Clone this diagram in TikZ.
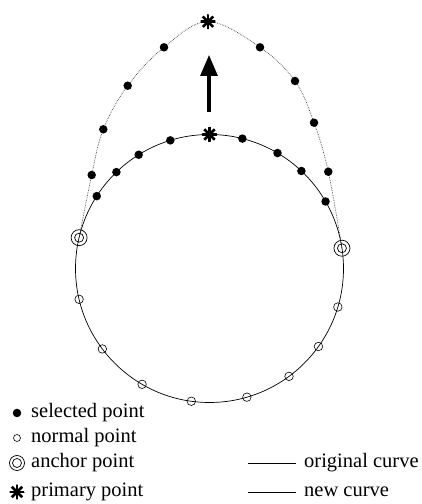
\documentclass[tikz,border=0pt]{standalone}
\usepackage{fontspec}
\setmainfont{Liberation Serif}
\usetikzlibrary{arrows.meta,backgrounds}
\tikzset{
  selpt/.style={
    circle,
    fill=black,
    inner sep=0pt,
    minimum size=8.5pt
  },
  normpt/.style={
    circle,
    draw=black,
    line width=0.6pt,
    inner sep=0pt,
    minimum size=8.5pt
  },
  anchorpt/.style={
    circle,
    draw=black,
    line width=0.7pt,
    inner sep=0pt,
    minimum size=16pt,
    path picture={\draw[line width=0.7pt] (path picture bounding box.center) circle (4.5pt);}
  },
  primpt/.style={
    circle,
    inner sep=0pt,
    minimum size=15pt,
    path picture={\foreach \k in {0,45,90,135}{\draw[line width=2.6pt] (path picture bounding box.center) ++(\k:8pt) -- ++(\k+180:16pt);}}
  },
  origcurve/.style={
    draw=black,
    line width=0.7pt
  },
  newcurve/.style={
    draw=black!75,
    line width=0.7pt,
    densely dotted
  },
  liftarrow/.style={
    draw=black,
    line width=3.2pt,
    -{Triangle[length=21pt,width=17pt]}
  },
  legtext/.style={
    anchor=west,
    inner sep=0pt,
    font=\fontsize{20.5}{25}\selectfont
  }
}

\begin{document}
\begin{tikzpicture}[x=1pt,y=1pt]
  \useasboundingbox (0,0) rectangle (421,504);
  \coordinate (ctr) at (209.5,235.5);
  % points on the original curve
  \foreach \a [count=\i] in {147.3,134,121.9,107,75.8,59.5,46.7,30}
    {\node[selpt] (os\i) at ([shift={(\a:134)}]ctr) {};}
  \foreach \a [count=\i] in {193.3,216.9,239.8,262.2,286.2,306.4,324.4,343.3}
    {\node[normpt] (np\i) at ([shift={(\a:134)}]ctr) {};}
  \node[anchorpt] (ancL) at ([shift={(166.7:134)}]ctr) {};
  \node[anchorpt] (ancR) at ([shift={(8.7:134)}]ctr) {};
  \node[primpt] (primOld) at ([shift={(90:134)}]ctr) {};
  % points on the new curve
  \node[primpt] (primNew) at (208,482.3) {};
  \foreach \x/\y [count=\i] in {91.7/329,103.3/374.7,127.7/418.3,164/456.7,260/456.7,295/423,314/381.3,328.3/332.3}
    {\node[selpt] (ns\i) at (\x,\y) {};}
  % lift
  \coordinate (liftFrom) at (209,392.3);
  \coordinate (liftTo) at (209,449);
  \draw[liftarrow] (liftFrom) -- (liftTo);
  \begin{scope}[on background layer]
    \draw[origcurve] (ctr) circle (134);
    \draw[newcurve] plot[smooth,tension=0.6] coordinates {(ancL.center) (ns1.center) (ns2.center) (ns3.center) (ns4.center) (primNew.center) (ns5.center) (ns6.center) (ns7.center) (ns8.center) (ancR.center)};
  \end{scope}
  % key
  \node[selpt] (keySel) at (17,91) {};
  \node[legtext] (txtSel) at (31,91) {selected point};
  \node[normpt,minimum size=7pt] (keyNorm) at (17,66) {};
  \node[legtext] (txtNorm) at (31,66) {normal point};
  \node[anchorpt,minimum size=15pt] (keyAnc) at (17,41) {};
  \node[legtext] (txtAnc) at (31,41) {anchor point};
  \node[primpt] (keyPrim) at (17,12) {};
  \node[legtext] (txtPrim) at (31,12) {primary point};
  \coordinate (keyOrig) at (248,41);
  \node[legtext] (txtOrig) at (304,41) {original curve};
  \draw[origcurve] (keyOrig) -- ([xshift=-8pt]txtOrig.west);
  \coordinate (keyNew) at (248,12);
  \node[legtext] (txtNew) at (304,12) {new curve};
  \draw[origcurve] (keyNew) -- ([xshift=-8pt]txtNew.west);
\end{tikzpicture}
\end{document}
